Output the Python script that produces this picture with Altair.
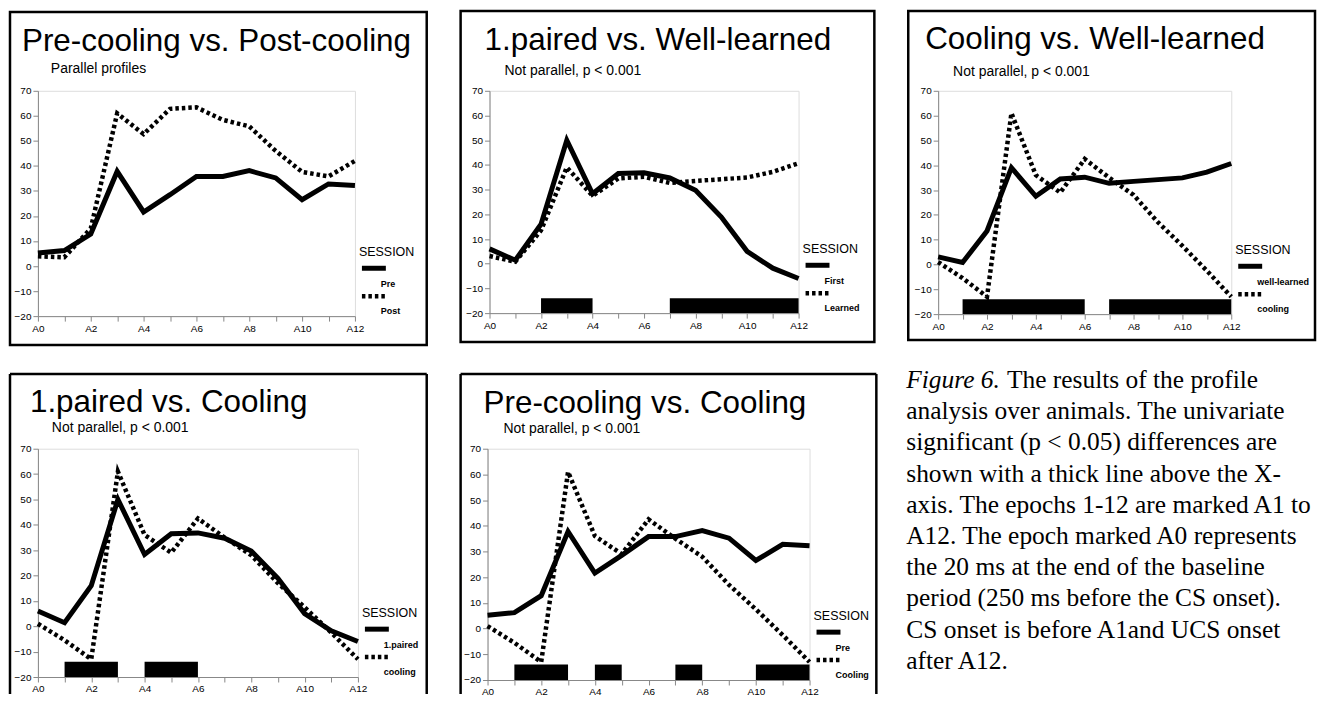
import altair as alt
import pandas as pd

# ---------------- data ----------------
EPOCHS = list(range(13))
Y_TICKS = list(range(-20, 71, 10))

PRE = [5.2, 6.2, 12.8, 37.8, 21.6, 28.5, 35.8, 35.8, 38.1, 35.2, 26.5, 32.8, 32.2]
POST = [3.9, 3.5, 15.0, 61.0, 52.7, 62.8, 63.4, 58.4, 55.8, 46.0, 37.6, 35.8, 42.0]
FIRST = [6.0, 1.4, 16.0, 50.0, 28.3, 36.5, 36.8, 34.7, 29.7, 18.9, 5.0, -1.8, -6.0]
LEARNED = [3.1, 0.8, 13.5, 39.0, 27.5, 34.5, 35.2, 32.7, 33.5, 34.2, 34.9, 37.2, 40.7]
COOLING = [1.0, -5.5, -13.0, 61.0, 36.0, 29.0, 42.5, 35.0, 28.0, 17.0, 7.5, -2.5, -13.0]

SIG_START_P2 = [2, 7]
SIG_END_P2 = [4, 12]
SIG_START_P3 = [1, 7]
SIG_END_P3 = [6, 12]
SIG_START_P4 = [1, 4]
SIG_END_P4 = [3, 6]
SIG_START_P5 = [1, 4, 7, 10]
SIG_END_P5 = [3, 5, 8, 12]
SIG_BOTTOM, SIG_TOP = -20, -14

TITLES = ["Pre-cooling vs. Post-cooling", "1.paired vs. Well-learned",
          "Cooling vs. Well-learned", "1.paired vs. Cooling", "Pre-cooling vs. Cooling"]
SUBTITLES = ["Parallel profiles", "Not parallel, p < 0.001", "Not parallel, p < 0.001",
             "Not parallel, p < 0.001", "Not parallel, p < 0.001"]
LEGEND_TITLE = "SESSION"
LABELS_SOLID = ["Pre", "First", "well-learned", "1.paired", "Pre"]
LABELS_DOTTED = ["Post", "Learned", "cooling", "cooling", "Cooling"]

CAPTION_ITALIC = "Figure 6."
CAPTION_FIRST = "The results of the profile"
CAPTION_LINES = [
    "analysis over animals. The univariate",
    "significant (p < 0.05) differences are",
    "shown with a thick line above the X-",
    "axis. The epochs 1-12 are marked A1 to",
    "A12. The epoch marked A0 represents",
    "the 20 ms at the end of the baseline",
    "period (250 ms before the CS onset).",
    "CS onset is before A1and UCS onset",
    "after A12.",
]

SANS = "Liberation Sans"
SERIF = "Liberation Serif"
ONE = pd.DataFrame({"k": [0]})


def txt(s, x, y, size, weight="normal", font=SANS, style="normal", baseline="alphabetic"):
    return alt.Chart(ONE).mark_text(
        text=s, font=font, fontSize=size, fontWeight=weight, fontStyle=style,
        align="left", baseline=baseline, color="black"
    ).encode(x=alt.value(x), y=alt.value(y))


def rule(x, x2, y, y2=None, width=2.5, dash=None):
    kw = dict(color="black", strokeWidth=width, strokeCap="butt")
    if dash is not None:
        kw["strokeDash"] = dash
    enc = dict(x=alt.value(x), x2=alt.value(x2), y=alt.value(y))
    if y2 is not None:
        enc["y2"] = alt.value(y2)
    return alt.Chart(ONE).mark_rule(**kw).encode(**enc)


X_SCALE = alt.Scale(domain=[0, 12], nice=False, zero=False)
Y_SCALE = alt.Scale(domain=[-20, 70], nice=False, zero=False)
X_AXIS = alt.Axis(values=EPOCHS, labelExpr="datum.value % 2 == 0 ? 'A' + datum.value : ''",
                  title=None, labelOverlap=False, labelFlush=False, grid=False)
Y_AXIS = alt.Axis(values=Y_TICKS, title=None, labelOverlap=False, labelFlush=False, grid=False)
X = alt.X("epoch:Q", scale=X_SCALE, axis=X_AXIS)
Y = alt.Y("value:Q", scale=Y_SCALE, axis=Y_AXIS)

DOT = [3.5, 3]


def panel(i, solid, dotted, sig_start, sig_end, W, H, frame, title_xy, sub_xy, closed=True):
    df_s = pd.DataFrame({"epoch": EPOCHS, "value": solid})
    df_d = pd.DataFrame({"epoch": EPOCHS, "value": dotted})
    layers = []
    layers.append(alt.Chart(df_d).mark_line(color="black", strokeWidth=4.5, strokeDash=DOT,
                                            strokeCap="butt").encode(x=X, y=Y))
    layers.append(alt.Chart(df_s).mark_line(color="black", strokeWidth=5).encode(x=X, y=Y))
    if sig_start:
        sig = pd.DataFrame({"start": sig_start, "end": sig_end})
        layers.append(alt.Chart(sig).mark_rect(color="black").encode(
            x=alt.X("start:Q", scale=X_SCALE, axis=X_AXIS),
            x2="end:Q",
            y=alt.YDatum(SIG_BOTTOM, scale=Y_SCALE, axis=Y_AXIS, type="quantitative"),
            y2=alt.Y2Datum(SIG_TOP)))
    L, R, T, B = frame
    if closed:
        layers.append(alt.Chart(ONE).mark_rect(fillOpacity=0, stroke="black", strokeWidth=2.5).encode(
            x=alt.value(L), x2=alt.value(R), y=alt.value(T), y2=alt.value(B)))
    else:
        layers.append(rule(L, L, T, B))
        layers.append(rule(L, R, T, T))
        layers.append(rule(R, R, T, B))
    layers.append(txt(TITLES[i], title_xy[0], title_xy[1], 31.5))
    layers.append(txt(SUBTITLES[i], sub_xy[0], sub_xy[1], 14))
    # legend
    layers.append(txt(LEGEND_TITLE, W + 4, H - 60, 12.5))
    layers.append(rule(W + 7, W + 31, H - 48, width=5))
    layers.append(txt(LABELS_SOLID[i], W + 26, H - 29, 9, weight="bold"))
    layers.append(rule(W + 7, W + 31, H - 20, width=4.5, dash=DOT))
    layers.append(txt(LABELS_DOTTED[i], W + 26, H - 2, 9, weight="bold"))
    return layers


W1, H1 = 318, 226
p1 = alt.layer(*panel(0, PRE, POST, [], [], W1, H1, (-28, W1 + 72, -79, H1 + 29),
                      (-16, -40), (13, -18))).properties(width=W1, height=H1)

W2, H2 = 310, 223
p2 = alt.layer(*panel(1, FIRST, LEARNED, SIG_START_P2, SIG_END_P2, W2, H2,
                      (-29, W2 + 76, -80, H2 + 29), (-5, -41), (15, -16))).properties(width=W2, height=H2)

W3, H3 = 294, 224
p3 = alt.layer(*panel(2, LEARNED, COOLING, SIG_START_P3, SIG_END_P3, W3, H3,
                      (-30, W3 + 84, -80, H3 + 26), (-13, -42), (15, -15))).properties(width=W3, height=H3)

W4, H4 = 321, 229
p4 = alt.layer(*panel(3, FIRST, COOLING, SIG_START_P4, SIG_END_P4, W4, H4,
                      (-28, W4 + 69, -75, H4 + 17), (-8, -37), (14, -17), closed=False)
               ).properties(width=W4, height=H4)

W5, H5 = 323, 232
p5_layers = panel(4, PRE, COOLING, SIG_START_P5, SIG_END_P5, W5, H5,
                  (-27, W5 + 67, -75, H5 + 14), (-4, -36), (16, -16), closed=False)
CAP_X = W5 + 97
CAP_Y0 = -69
CAP_STEP = 31.3
CAP_SIZE = 25.5
p5_layers.append(txt(CAPTION_ITALIC, CAP_X, CAP_Y0, CAP_SIZE, font=SERIF, style="italic", baseline="middle"))
p5_layers.append(txt(CAPTION_FIRST, CAP_X + 101, CAP_Y0, CAP_SIZE, font=SERIF, baseline="middle"))
for k, line in enumerate(CAPTION_LINES):
    p5_layers.append(txt(line, CAP_X, CAP_Y0 + CAP_STEP * (k + 1), CAP_SIZE, font=SERIF, baseline="middle"))
p5 = alt.layer(*p5_layers).properties(width=W5, height=H5)

top = alt.hconcat(p1, p2, p3, spacing=30)
bottom = alt.hconcat(p4, p5, spacing=30)

chart = alt.vconcat(top, bottom, spacing=20).properties(padding=0).configure_view(
    stroke="black", strokeWidth=1
).configure_axis(
    labelFont=SANS, labelFontSize=9.5, labelFontWeight="bold", labelColor="black",
    tickColor="black", tickSize=3, tickWidth=1.5, domainColor="black", domainWidth=1,
    labelPadding=1
).configure(background="white")

chart.save("out.html", embed_options={"renderer": "svg", "actions": False})
